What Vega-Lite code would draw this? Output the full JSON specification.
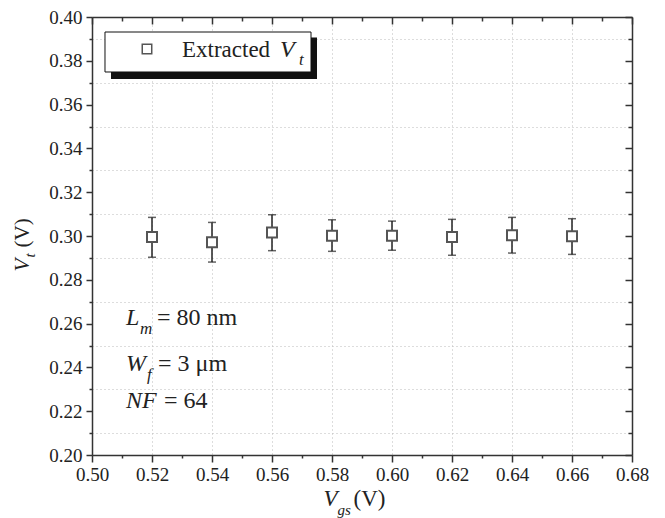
{
  "$schema": "https://vega.github.io/schema/vega-lite/v6.json",
  "autosize": "none",
  "width": 540,
  "height": 438,
  "padding": {"left": 92, "top": 17, "right": 33, "bottom": 63},
  "background": "white",
  "config": {"view": {"stroke": null}, "axis": {"labelFont": "Liberation Serif", "titleFont": "Liberation Serif", "labelColor": "#222", "titleColor": "#222", "titleFontWeight": "normal", "tickColor": "#333", "domainColor": "#333", "tickWidth": 1.5, "domainWidth": 1.5, "labelFlush": false, "labelOverlap": false}},
  "datasets": {
    "vt": [
      {"Vgs": 0.52, "Vt": 0.2995, "lo": 0.2903, "hi": 0.3085},
      {"Vgs": 0.54, "Vt": 0.2972, "lo": 0.2881, "hi": 0.3062},
      {"Vgs": 0.56, "Vt": 0.3016, "lo": 0.2933, "hi": 0.3097},
      {"Vgs": 0.58, "Vt": 0.3001, "lo": 0.2930, "hi": 0.3074},
      {"Vgs": 0.60, "Vt": 0.3001, "lo": 0.2935, "hi": 0.3068},
      {"Vgs": 0.62, "Vt": 0.2995, "lo": 0.2912, "hi": 0.3076},
      {"Vgs": 0.64, "Vt": 0.3003, "lo": 0.2922, "hi": 0.3085},
      {"Vgs": 0.66, "Vt": 0.2999, "lo": 0.2916, "hi": 0.3079}
    ]
  },
  "resolve": {"axis": {"x": "independent", "y": "independent"}},
  "layer": [
    {
      "data": {"values": [{"x1": 0.50633, "x2": 0.575, "y1": 0.3906, "y2": 0.3717}]},
      "mark": {"type": "rect", "fill": "#111"},
      "encoding": {
        "x": {"field": "x1", "type": "quantitative", "scale": {"domain": [0.5, 0.68], "nice": false, "zero": false},
          "axis": {"orient": "bottom", "values": [0.5], "labels": false, "ticks": false, "domain": false, "grid": false, "title": "(V)", "titleFont": "Liberation Serif", "titleFontSize": 23, "titleX": 261, "titleY": 50, "titleAlign": "left", "titleBaseline": "alphabetic"}},
        "x2": {"field": "x2"},
        "y": {"field": "y1", "type": "quantitative", "scale": {"domain": [0.2, 0.4], "nice": false, "zero": false},
          "axis": {"orient": "left", "values": [0.2], "labels": false, "ticks": false, "domain": false, "grid": false, "title": "(V)", "titleFont": "Liberation Serif", "titleFontSize": 21, "titleAngle": 270, "titleX": -64, "titleY": 230, "titleAlign": "left", "titleBaseline": "alphabetic"}},
        "y2": {"field": "y2"}
      }
    },
    {
      "data": {"values": [{"x1": 0.50433, "x2": 0.573, "y1": 0.39315, "y2": 0.37489}]},
      "mark": {"type": "rect", "fill": "white", "stroke": "#111", "strokeWidth": 1},
      "encoding": {
        "x": {"field": "x1", "type": "quantitative", "axis": null},
        "x2": {"field": "x2"},
        "y": {"field": "y1", "type": "quantitative", "axis": null},
        "y2": {"field": "y2"}
      }
    },
    {
      "data": {"name": "vt"},
      "mark": {"type": "rule", "color": "#222", "strokeWidth": 1.5},
      "encoding": {
        "x": {"field": "Vgs", "type": "quantitative",
          "axis": {"orient": "bottom", "values": [0.5, 0.52, 0.54, 0.56, 0.58, 0.6, 0.62, 0.64, 0.66, 0.68], "format": ".2f", "labelFont": "Liberation Serif", "labelFontSize": 19, "labelPadding": 3, "tickSize": 7, "grid": true, "gridColor": "#bbb", "gridDash": [1, 3], "gridWidth": 1, "title": "V", "titleFont": "Liberation Serif", "titleFontStyle": "italic", "titleFontSize": 23, "titleX": 231, "titleY": 50, "titleAlign": "left", "titleBaseline": "alphabetic"}},
        "y": {"field": "lo", "type": "quantitative",
          "axis": {"orient": "left", "values": [0.2, 0.22, 0.24, 0.26, 0.28, 0.3, 0.32, 0.34, 0.36, 0.38, 0.4], "format": ".2f", "labelFont": "Liberation Serif", "labelFontSize": 19, "labelPadding": 4, "tickSize": 6, "grid": false, "title": "V", "titleFont": "Liberation Serif", "titleFontStyle": "italic", "titleFontSize": 21, "titleAngle": 270, "titleX": -64, "titleY": 254, "titleAlign": "left", "titleBaseline": "alphabetic"}},
        "y2": {"field": "hi"}
      }
    },
    {
      "data": {"name": "vt"},
      "mark": {"type": "tick", "orient": "horizontal", "color": "#222", "size": 8, "thickness": 1.5},
      "encoding": {
        "x": {"field": "Vgs", "type": "quantitative",
          "axis": {"orient": "bottom", "values": [0.51, 0.53, 0.55, 0.57, 0.59, 0.61, 0.63, 0.65, 0.67], "labels": false, "domain": false, "grid": false, "tickSize": 3, "title": "gs", "titleFont": "Liberation Serif", "titleFontStyle": "italic", "titleFontSize": 15, "titleX": 245, "titleY": 59, "titleAlign": "left", "titleBaseline": "alphabetic"}},
        "y": {"field": "lo", "type": "quantitative",
          "axis": {"orient": "left", "values": [0.21, 0.23, 0.25, 0.27, 0.29, 0.31, 0.33, 0.35, 0.37, 0.39], "labels": false, "domain": false, "tickSize": 3, "grid": true, "gridColor": "#bbb", "gridDash": [1, 3], "gridWidth": 1, "title": "t", "titleFont": "Liberation Serif", "titleFontStyle": "italic", "titleFontSize": 15, "titleAngle": 270, "titleX": -58, "titleY": 240, "titleAlign": "left", "titleBaseline": "alphabetic"}}
      }
    },
    {
      "data": {"name": "vt"},
      "mark": {"type": "tick", "orient": "horizontal", "color": "#222", "size": 8, "thickness": 1.5},
      "encoding": {
        "x": {"field": "Vgs", "type": "quantitative",
          "axis": {"orient": "top", "values": [0.5, 0.52, 0.54, 0.56, 0.58, 0.6, 0.62, 0.64, 0.66, 0.68], "labels": false, "grid": false, "tickSize": -7, "title": null}},
        "y": {"field": "hi", "type": "quantitative",
          "axis": {"orient": "right", "values": [0.2, 0.22, 0.24, 0.26, 0.28, 0.3, 0.32, 0.34, 0.36, 0.38, 0.4], "labels": false, "grid": false, "tickSize": -7, "title": null}}
      }
    },
    {
      "data": {"name": "vt"},
      "mark": {"type": "point", "shape": "square", "size": 100, "filled": true, "fill": "white", "stroke": "#555", "strokeWidth": 2, "opacity": 1},
      "encoding": {
        "x": {"field": "Vgs", "type": "quantitative",
          "axis": {"orient": "top", "values": [0.51, 0.53, 0.55, 0.57, 0.59, 0.61, 0.63, 0.65, 0.67], "labels": false, "domain": false, "grid": false, "tickSize": -4, "title": null}},
        "y": {"field": "Vt", "type": "quantitative",
          "axis": {"orient": "right", "values": [0.21, 0.23, 0.25, 0.27, 0.29, 0.31, 0.33, 0.35, 0.37, 0.39], "labels": false, "domain": false, "grid": false, "tickSize": -4, "title": null}}
      }
    },
    {
      "data": {"values": [{"x": 0.51833, "y": 0.38539}]},
      "mark": {"type": "point", "shape": "square", "size": 90, "filled": true, "fill": "white", "stroke": "#555", "strokeWidth": 1.5, "opacity": 1},
      "encoding": {
        "x": {"field": "x", "type": "quantitative", "axis": null},
        "y": {"field": "y", "type": "quantitative", "axis": null}
      }
    },
    {
      "data": {"values": [{"x": 0.53, "y": 0.3818, "label": "Extracted"}]},
      "mark": {"type": "text", "font": "Liberation Serif", "fontSize": 23, "align": "left", "baseline": "alphabetic", "color": "#222"},
      "encoding": {
        "x": {"field": "x", "type": "quantitative", "axis": null},
        "y": {"field": "y", "type": "quantitative", "axis": null},
        "text": {"field": "label"}
      }
    },
    {
      "data": {"values": [{"x": 0.52167, "y": 0.25936, "label": "= 80 nm"}, {"x": 0.522, "y": 0.23836, "label": "= 3 μm"}, {"x": 0.524, "y": 0.22146, "label": "= 64"}]},
      "mark": {"type": "text", "font": "Liberation Serif", "fontSize": 24, "align": "left", "baseline": "alphabetic", "color": "#222"},
      "encoding": {
        "x": {"field": "x", "type": "quantitative", "axis": null},
        "y": {"field": "y", "type": "quantitative", "axis": null},
        "text": {"field": "label"}
      }
    },
    {
      "data": {"values": [{"x": 0.5627, "y": 0.3818, "label": "V"}, {"x": 0.51133, "y": 0.25936, "label": "L"}, {"x": 0.51133, "y": 0.23836, "label": "W"}, {"x": 0.51133, "y": 0.22146, "label": "NF"}]},
      "mark": {"type": "text", "font": "Liberation Serif", "fontSize": 24, "fontStyle": "italic", "align": "left", "baseline": "alphabetic", "color": "#222"},
      "encoding": {
        "x": {"field": "x", "type": "quantitative", "axis": null},
        "y": {"field": "y", "type": "quantitative", "axis": null},
        "text": {"field": "label"}
      }
    },
    {
      "data": {"values": [{"x": 0.569, "y": 0.3781, "label": "t"}, {"x": 0.516, "y": 0.25525, "label": "m"}, {"x": 0.51833, "y": 0.23425, "label": "f"}]},
      "mark": {"type": "text", "font": "Liberation Serif", "fontSize": 17, "fontStyle": "italic", "align": "left", "baseline": "alphabetic", "color": "#222"},
      "encoding": {
        "x": {"field": "x", "type": "quantitative", "axis": null},
        "y": {"field": "y", "type": "quantitative", "axis": null},
        "text": {"field": "label"}
      }
    }
  ]
}
